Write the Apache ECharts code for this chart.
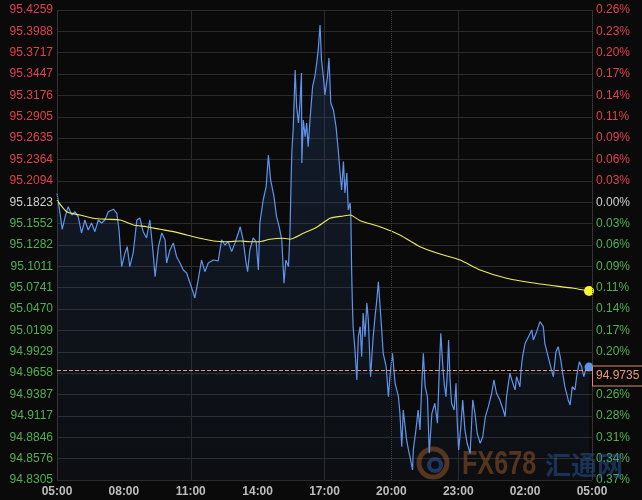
<!DOCTYPE html>
<html><head><meta charset="utf-8">
<script src="https://cdn.jsdelivr.net/npm/echarts@6/dist/echarts.min.js"></script>
<style>html,body{margin:0;padding:0;background:#0a0a0a;}#c{width:642px;height:500px;}</style>
</head><body><div id="c"></div>
<script>
// minutes after 05:00, price
const priceSeries = [[0,95.1937],[8,95.1688],[14,95.1481],[22,95.1641],[30,95.1768],[40,95.1662],[48,95.1704],[57,95.1641],[66,95.1434],[75,95.1599],[84,95.1472],[93,95.1561],[102,95.1451],[111,95.1599],[120,95.1561],[129,95.1599],[138,95.1704],[152,95.1735],[161,95.1684],[167,95.1472],[174,95.1008],[183,95.1181],[189,95.1261],[196,95.1008],[205,95.1181],[215,95.1599],[223,95.1624],[232,95.1451],[241,95.1371],[250,95.1599],[258,95.1219],[264,95.0881],[273,95.1261],[282,95.1434],[291,95.1346],[295,95.1054],[304,95.1219],[313,95.1308],[322,95.1134],[331,95.1054],[340,95.0966],[349,95.0928],[358,95.0801],[367,95.0674],[371,95.0611],[380,95.0839],[389,95.1092],[398,95.0944],[407,95.1054],[421,95.1092],[434,95.1080],[443,95.1346],[452,95.1282],[461,95.1324],[470,95.1198],[479,95.1308],[488,95.1434],[493,95.1514],[501,95.1346],[509,95.1054],[513,95.0944],[519,95.1219],[528,95.1371],[536,95.1324],[542,95.0966],[546,95.1561],[555,95.1852],[563,95.2021],[569,95.2423],[575,95.2106],[584,95.1894],[591,95.1641],[598,95.1514],[605,95.1346],[611,95.0797],[616,95.1092],[623,95.1008],[627,95.1434],[630,95.2068],[632,95.2448],[636,95.2781],[641,95.3499],[645,95.3034],[650,95.2828],[654,95.3081],[658,95.3461],[659,95.2321],[663,95.2866],[668,95.2654],[672,95.2828],[676,95.2528],[681,95.2866],[688,95.3288],[694,95.3414],[699,95.3588],[703,95.3753],[708,95.4069],[712,95.3626],[717,95.3414],[721,95.3183],[728,95.3414],[732,95.3651],[737,95.3081],[744,95.2993],[751,95.2781],[757,95.2486],[762,95.2194],[766,95.1979],[771,95.2338],[775,95.1941],[780,95.2194],[784,95.1726],[789,95.1814],[791,95.1641],[793,95.0966],[795,95.0548],[797,95.0247],[802,94.9952],[807,94.9572],[811,95.0121],[816,95.0247],[820,94.9867],[824,95.0421],[829,95.0121],[834,95.0548],[838,95.0332],[844,94.9614],[851,95.0121],[856,95.0374],[860,95.0548],[865,95.0817],[869,95.0548],[874,95.0206],[878,94.9910],[886,94.9741],[892,94.9361],[896,94.9614],[903,94.9910],[910,94.9530],[919,94.9361],[923,94.9150],[928,94.8727],[932,94.9192],[937,94.8981],[941,94.8812],[946,94.8686],[950,94.8601],[957,94.8432],[959,94.8686],[966,94.8939],[972,94.9192],[977,94.8939],[982,94.9530],[986,94.9910],[991,94.9487],[997,94.9361],[1002,94.8644],[1009,94.9150],[1017,94.9277],[1024,94.9024],[1029,94.9699],[1033,95.0164],[1038,94.9784],[1042,94.9530],[1047,94.9361],[1051,94.9699],[1054,95.0079],[1058,94.9572],[1062,94.9277],[1069,94.9192],[1074,94.9530],[1077,94.9066],[1081,94.8686],[1087,94.8981],[1092,94.9319],[1098,94.8939],[1104,94.8770],[1112,94.8644],[1119,94.9319],[1125,94.9150],[1131,94.8897],[1139,94.8770],[1146,94.8854],[1153,94.9107],[1161,94.9234],[1170,94.9404],[1176,94.9572],[1183,94.9404],[1192,94.9319],[1201,94.9192],[1206,94.9107],[1210,94.9361],[1215,94.9530],[1219,94.9657],[1227,94.9530],[1233,94.9446],[1237,94.9614],[1246,94.9487],[1249,94.9699],[1253,94.9867],[1260,95.0037],[1269,95.0121],[1278,95.0206],[1282,95.0079],[1291,95.0184],[1300,95.0311],[1309,95.0247],[1313,95.0037],[1322,94.9867],[1331,94.9699],[1336,94.9614],[1343,94.9931],[1349,94.9994],[1356,94.9826],[1361,94.9657],[1367,94.9487],[1376,94.9319],[1381,94.9256],[1387,94.9487],[1394,94.9446],[1400,94.9657],[1406,94.9804],[1412,94.9741],[1418,94.9614],[1426,94.9762],[1432,94.9735]];
const avgSeries = [[0,95.1850],[26,95.1704],[62,95.1662],[98,95.1621],[134,95.1608],[170,95.1599],[205,95.1536],[241,95.1514],[277,95.1481],[313,95.1451],[349,95.1409],[385,95.1367],[421,95.1333],[457,95.1324],[493,95.1333],[519,95.1324],[546,95.1324],[573,95.1355],[609,95.1367],[627,95.1355],[663,95.1431],[699,95.1507],[735,95.1621],[771,95.1650],[789,95.1662],[816,95.1590],[869,95.1514],[923,95.1409],[977,95.1261],[1031,95.1168],[1085,95.1092],[1139,95.0966],[1210,95.0861],[1300,95.0788],[1390,95.0734],[1432,95.0700]];
const xTickLabels = ['05:00','08:00','11:00','14:00','17:00','20:00','23:00','02:00','05:00'];
const priceTickLabels = ['94.8305','94.8576','94.8846','94.9117','94.9387','94.9658','94.9929','95.0199','95.0470','95.0741','95.1011','95.1282','95.1552','95.1823','95.2094','95.2364','95.2635','95.2905','95.3176','95.3447','95.3717','95.3988','95.4259'];
const pctTickLabels = ['0.37%','0.34%','0.31%','0.28%','0.26%','0.23%','0.20%','0.17%','0.14%','0.11%','0.09%','0.06%','0.03%','0.00%','0.03%','0.06%','0.09%','0.11%','0.14%','0.17%','0.20%','0.23%','0.26%'];
const baseIndex = 13;
const lastPrice = 94.9735;
const sessionMarks = [0, 900, 1440];

const yMin = Number(priceTickLabels[0]);
const yMax = Number(priceTickLabels[priceTickLabels.length - 1]);
const nSteps = priceTickLabels.length - 1;
const yStep = Math.round((yMax - yMin) / nSteps * 1e8 + 0.5) / 1e8;
const FONT = '"Liberation Sans", Arial, sans-serif';
const richY = {
  r: {color: '#e0424f', fontSize: 12, fontFamily: FONT},
  w: {color: '#d0d0d0', fontSize: 12, fontFamily: FONT},
  g: {color: '#52b052', fontSize: 12, fontFamily: FONT}
};
function tagFor(i) { return i > baseIndex ? 'r' : (i === baseIndex ? 'w' : 'g'); }
function yIdx(v) { return Math.max(0, Math.min(nSteps, Math.round((v - yMin) / yStep))); }

const chart = echarts.init(document.getElementById('c'), null, {renderer: 'canvas'});
const last = priceSeries[priceSeries.length - 1];
const lastAvg = avgSeries[avgSeries.length - 1];

chart.setOption({
  backgroundColor: '#0a0a0a',
  animation: false,
  grid: {left: 57, right: 50, top: 10, bottom: 20},
  xAxis: [{
    type: 'value', min: 0, max: 1440, interval: 180,
    axisLine: {show: false}, axisTick: {show: false}, splitLine: {show: false},
    axisLabel: {color: '#bdbdbd', fontWeight: 'bold', fontSize: 12, fontFamily: FONT, margin: 6,
      formatter: v => xTickLabels[Math.round(v / 180)] || ''}
  }, {
    type: 'value', min: 0, max: 1440, interval: 360, position: 'bottom',
    axisLine: {show: false}, axisTick: {show: false}, axisLabel: {show: false},
    splitLine: {show: true, lineStyle: {color: '#2a2a2a', width: 1}}
  }],
  yAxis: [{
    type: 'value', min: yMin, max: yMax, interval: yStep, position: 'left',
    axisLine: {show: false}, axisTick: {show: false},
    splitLine: {show: true, lineStyle: {color: '#2b2b2b', width: 1}},
    axisLabel: {margin: 4, formatter: v => { const i = yIdx(v); return '{' + tagFor(i) + '|' + priceTickLabels[i] + '}'; }, rich: richY}
  }, {
    type: 'value', min: yMin, max: yMax, interval: yStep, position: 'right',
    axisLine: {show: false}, axisTick: {show: false}, splitLine: {show: false},
    axisLabel: {margin: 4, formatter: v => { const i = yIdx(v); return '{' + tagFor(i) + '|' + pctTickLabels[i] + '}'; }, rich: richY}
  }],
  graphic: [
    {type: 'circle', silent: true, z: 1, shape: {cx: 433, cy: 463, r: 14}, style: {fill: 'none', stroke: 'rgba(170,90,35,0.5)', lineWidth: 5}},
    {type: 'circle', silent: true, z: 1, shape: {cx: 435, cy: 465, r: 6}, style: {fill: 'none', stroke: 'rgba(50,90,160,0.55)', lineWidth: 4}},
    {type: 'text', silent: true, z: 1, x: 462, y: 465, scaleX: 0.74,
      style: {text: 'FX678', font: 'bold 34px "Liberation Sans", Arial, sans-serif', fill: 'rgba(165,90,30,0.5)', verticalAlign: 'middle'}},
    {type: 'text', silent: true, z: 1, x: 545, y: 465,
      style: {text: '汇通网', font: 'bold 26px "Noto Sans CJK SC", sans-serif', fill: 'rgba(45,95,170,0.45)', verticalAlign: 'middle'}}
  ],
  series: [{
    type: 'line', data: priceSeries, showSymbol: false, z: 3,
    lineStyle: {color: '#6094ec', width: 1.2},
    areaStyle: {color: new echarts.graphic.LinearGradient(0, 0, 0, 1, [
      {offset: 0, color: 'rgba(45,85,150,0.38)'}, {offset: 1, color: 'rgba(45,85,150,0.08)'}])},
    markLine: {
      silent: true, symbol: 'none', animation: false, z: 6,
      data: [
        {yAxis: lastPrice, lineStyle: {type: 'dashed', color: '#e8987a', width: 1},
          label: {show: true, position: 'end', distance: 1, offset: [0, 6], formatter: lastPrice.toFixed(4),
            color: '#ef9a7a', fontSize: 12, fontFamily: FONT, backgroundColor: '#0a0a0a',
            borderColor: '#d98a6c', borderWidth: 1, padding: [4, 3, 3, 3]}}
      ].concat(sessionMarks.map(m => ({xAxis: m, lineStyle: {type: 'dotted', color: '#3c3c3c', width: 1}, label: {show: false}})))
    }
  }, {
    type: 'line', data: avgSeries, showSymbol: false, smooth: 0.2, z: 4,
    lineStyle: {color: '#ecec5c', width: 1.1}
  }, {
    type: 'scatter', data: [last], symbolSize: 9, z: 5,
    itemStyle: {color: '#5b95ec', opacity: 1}
  }, {
    type: 'scatter', data: [lastAvg], symbolSize: 10, z: 5,
    itemStyle: {color: '#f5f52a', opacity: 1}
  }]
});
</script></body></html>
